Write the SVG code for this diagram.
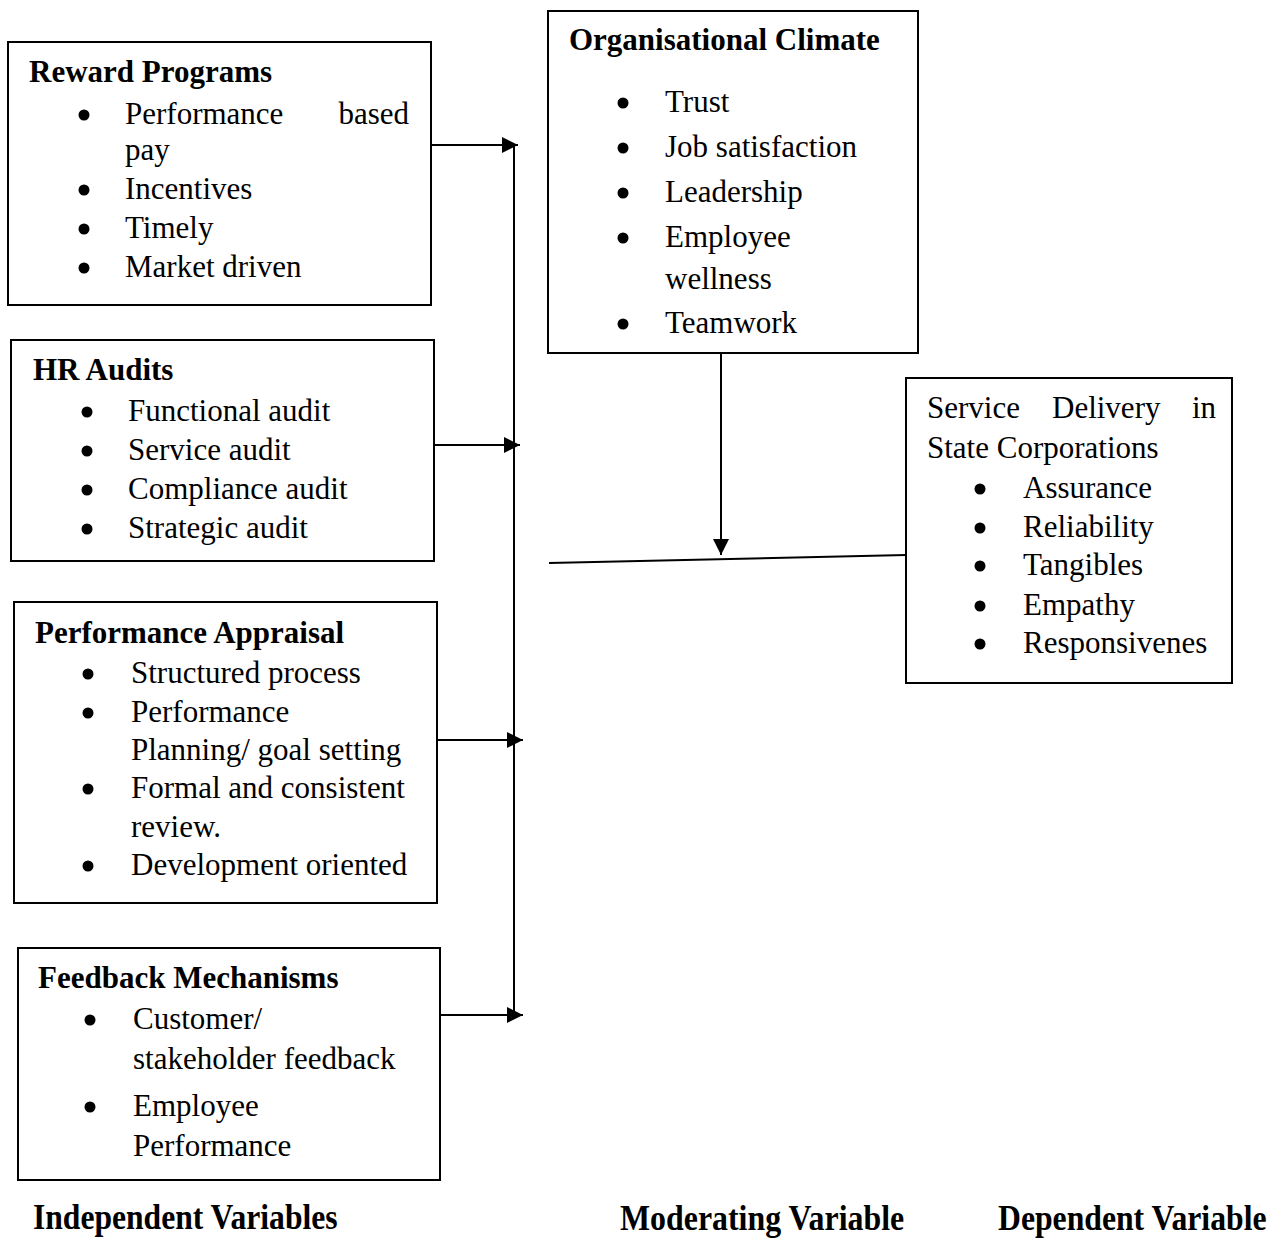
<svg xmlns="http://www.w3.org/2000/svg" width="1285" height="1239" viewBox="0 0 1285 1239">
<style>
.box{fill:#fff;stroke:#000;stroke-width:2}
.t{font-family:"Liberation Serif","Times New Roman",serif;font-size:31px;fill:#000}
.h{font-family:"Liberation Serif","Times New Roman",serif;font-size:31px;font-weight:bold;fill:#000}
.lab{font-family:"Liberation Serif","Times New Roman",serif;font-size:35px;font-weight:bold;fill:#000}
.b{fill:#000}
.ln{stroke:#000;stroke-width:2;fill:none}
</style>
<defs>
<marker id="ah" markerWidth="16" markerHeight="16" refX="16" refY="8" orient="auto" markerUnits="userSpaceOnUse">
<path d="M0,0 L16,8 L0,16 Z" fill="#000"/>
</marker>
</defs>
<rect width="1285" height="1239" fill="#fff"/>

<g id="connectors">
<line class="ln" x1="514" y1="145" x2="514" y2="1015"/>
<line class="ln" x1="431" y1="145" x2="518" y2="145" marker-end="url(#ah)"/>
<line class="ln" x1="434" y1="445" x2="520" y2="445" marker-end="url(#ah)"/>
<line class="ln" x1="437" y1="740" x2="523" y2="740" marker-end="url(#ah)"/>
<line class="ln" x1="440" y1="1015" x2="523" y2="1015" marker-end="url(#ah)"/>
<line class="ln" x1="721" y1="353" x2="721" y2="555" marker-end="url(#ah)"/>
<line class="ln" x1="549" y1="563" x2="906" y2="555"/>
</g>

<g id="reward-programs">
<rect class="box" x="8" y="42" width="423" height="263"/>
<text class="h" x="29" y="82">Reward Programs</text>
<circle class="b" cx="84" cy="115" r="5.5"/>
<text class="t" x="125" y="124">Performance</text>
<text class="t" x="409" y="124" text-anchor="end">based</text>
<text class="t" x="125" y="160">pay</text>
<circle class="b" cx="84" cy="190" r="5.5"/>
<text class="t" x="125" y="199">Incentives</text>
<circle class="b" cx="84" cy="229" r="5.5"/>
<text class="t" x="125" y="238">Timely</text>
<circle class="b" cx="84" cy="268" r="5.5"/>
<text class="t" x="125" y="277">Market driven</text>
</g>

<g id="hr-audits">
<rect class="box" x="11" y="340" width="423" height="221"/>
<text class="h" x="33" y="380">HR Audits</text>
<circle class="b" cx="87" cy="412" r="5.5"/>
<text class="t" x="128" y="421">Functional audit</text>
<circle class="b" cx="87" cy="451" r="5.5"/>
<text class="t" x="128" y="460">Service audit</text>
<circle class="b" cx="87" cy="490" r="5.5"/>
<text class="t" x="128" y="499">Compliance audit</text>
<circle class="b" cx="87" cy="529" r="5.5"/>
<text class="t" x="128" y="538">Strategic audit</text>
</g>

<g id="performance-appraisal">
<rect class="box" x="14" y="602" width="423" height="301"/>
<text class="h" x="35" y="643">Performance Appraisal</text>
<circle class="b" cx="88" cy="674" r="5.5"/>
<text class="t" x="131" y="683">Structured process</text>
<circle class="b" cx="88" cy="713" r="5.5"/>
<text class="t" x="131" y="722">Performance</text>
<text class="t" x="131" y="760">Planning/ goal setting</text>
<circle class="b" cx="88" cy="789" r="5.5"/>
<text class="t" x="131" y="798">Formal and consistent</text>
<text class="t" x="131" y="837">review.</text>
<circle class="b" cx="88" cy="866" r="5.5"/>
<text class="t" x="131" y="875">Development oriented</text>
</g>

<g id="feedback-mechanisms">
<rect class="box" x="18" y="948" width="422" height="232"/>
<text class="h" x="38" y="988">Feedback Mechanisms</text>
<circle class="b" cx="90" cy="1020" r="5.5"/>
<text class="t" x="133" y="1029">Customer/</text>
<text class="t" x="133" y="1069">stakeholder feedback</text>
<circle class="b" cx="90" cy="1107" r="5.5"/>
<text class="t" x="133" y="1116">Employee</text>
<text class="t" x="133" y="1156">Performance</text>
</g>

<g id="organisational-climate">
<rect class="box" x="548" y="11" width="370" height="342"/>
<text class="h" x="569" y="50">Organisational Climate</text>
<circle class="b" cx="623" cy="103" r="5.5"/>
<text class="t" x="665" y="112">Trust</text>
<circle class="b" cx="623" cy="148" r="5.5"/>
<text class="t" x="665" y="157">Job satisfaction</text>
<circle class="b" cx="623" cy="193" r="5.5"/>
<text class="t" x="665" y="202">Leadership</text>
<circle class="b" cx="623" cy="238" r="5.5"/>
<text class="t" x="665" y="247">Employee</text>
<text class="t" x="665" y="289">wellness</text>
<circle class="b" cx="623" cy="324" r="5.5"/>
<text class="t" x="665" y="333">Teamwork</text>
</g>

<g id="service-delivery">
<rect class="box" x="906" y="378" width="326" height="305"/>
<text class="t" y="418"><tspan x="927">Service</tspan><tspan x="1052">Delivery</tspan><tspan x="1192">in</tspan></text>
<text class="t" x="927" y="458">State Corporations</text>
<circle class="b" cx="980" cy="489" r="5.5"/>
<text class="t" x="1023" y="498">Assurance</text>
<circle class="b" cx="980" cy="528" r="5.5"/>
<text class="t" x="1023" y="537">Reliability</text>
<circle class="b" cx="980" cy="566" r="5.5"/>
<text class="t" x="1023" y="575">Tangibles</text>
<circle class="b" cx="980" cy="606" r="5.5"/>
<text class="t" x="1023" y="615">Empathy</text>
<circle class="b" cx="980" cy="644" r="5.5"/>
<text class="t" x="1023" y="653">Responsivenes</text>
</g>

<g id="labels">
<text class="lab" transform="translate(33 1229) scale(0.903 1)">Independent Variables</text>
<text class="lab" transform="translate(620 1230) scale(0.911 1)">Moderating Variable</text>
<text class="lab" transform="translate(998 1230) scale(0.906 1)">Dependent Variable</text>
</g>
</svg>
